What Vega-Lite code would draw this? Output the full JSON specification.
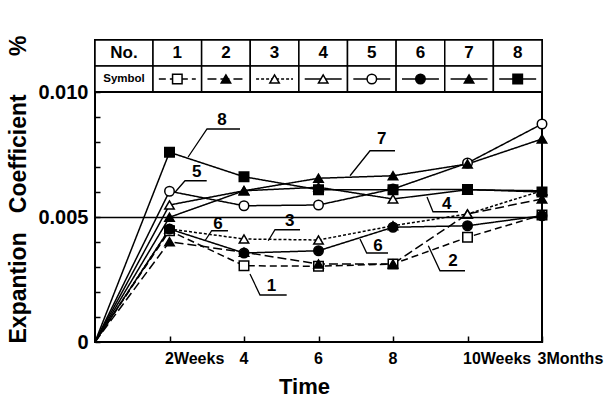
{
  "$schema": "https://vega.github.io/schema/vega-lite/v6.json",
  "background": "white",
  "padding": {"left": 5, "top": 34, "right": 2, "bottom": 2},
  "config": {
    "view": {"stroke": "black", "strokeWidth": 2},
    "font": "Liberation Sans",
    "concat": {"spacing": 0}
  },
  "spacing": 0,
  "bounds": "flush",
  "resolve": {"scale": {"x": "independent", "y": "independent"}},
  "datasets": {
    "series": [
      {"s": "1", "w": 0, "v": 0}, {"s": "1", "w": 2, "v": 0.00445}, {"s": "1", "w": 4, "v": 0.00305}, {"s": "1", "w": 6, "v": 0.00303}, {"s": "1", "w": 8, "v": 0.00312}, {"s": "1", "w": 10, "v": 0.00419}, {"s": "1", "w": 12, "v": 0.00508},
      {"s": "2", "w": 0, "v": 0}, {"s": "2", "w": 2, "v": 0.00401}, {"s": "2", "w": 4, "v": 0.00359}, {"s": "2", "w": 6, "v": 0.00312}, {"s": "2", "w": 8, "v": 0.00312}, {"s": "2", "w": 10, "v": 0.00512}, {"s": "2", "w": 12, "v": 0.00572},
      {"s": "3", "w": 0, "v": 0}, {"s": "3", "w": 2, "v": 0.00452}, {"s": "3", "w": 4, "v": 0.00412}, {"s": "3", "w": 6, "v": 0.00408}, {"s": "3", "w": 8, "v": 0.00465}, {"s": "3", "w": 10, "v": 0.00512}, {"s": "3", "w": 12, "v": 0.00605},
      {"s": "4", "w": 0, "v": 0}, {"s": "4", "w": 2, "v": 0.00548}, {"s": "4", "w": 4, "v": 0.00605}, {"s": "4", "w": 6, "v": 0.00619}, {"s": "4", "w": 8, "v": 0.00572}, {"s": "4", "w": 10, "v": 0.00609}, {"s": "4", "w": 12, "v": 0.00605},
      {"s": "5", "w": 0, "v": 0}, {"s": "5", "w": 2, "v": 0.00603}, {"s": "5", "w": 4, "v": 0.00545}, {"s": "5", "w": 6, "v": 0.00548}, {"s": "5", "w": 8, "v": 0.00612}, {"s": "5", "w": 10, "v": 0.00716}, {"s": "5", "w": 12, "v": 0.00872},
      {"s": "6", "w": 0, "v": 0}, {"s": "6", "w": 2, "v": 0.00452}, {"s": "6", "w": 4, "v": 0.00356}, {"s": "6", "w": 6, "v": 0.00365}, {"s": "6", "w": 8, "v": 0.00459}, {"s": "6", "w": 10, "v": 0.00465}, {"s": "6", "w": 12, "v": 0.00505},
      {"s": "7", "w": 0, "v": 0}, {"s": "7", "w": 2, "v": 0.00499}, {"s": "7", "w": 4, "v": 0.00605}, {"s": "7", "w": 6, "v": 0.00655}, {"s": "7", "w": 8, "v": 0.00665}, {"s": "7", "w": 10, "v": 0.00712}, {"s": "7", "w": 12, "v": 0.00812},
      {"s": "8", "w": 0, "v": 0}, {"s": "8", "w": 2, "v": 0.00759}, {"s": "8", "w": 4, "v": 0.00661}, {"s": "8", "w": 6, "v": 0.00609}, {"s": "8", "w": 8, "v": 0.00609}, {"s": "8", "w": 10, "v": 0.0061}, {"s": "8", "w": 12, "v": 0.006}
    ],
    "hdr": [
      {"c": "No.", "row": "No.", "t": "No."},
      {"c": "No.", "row": "Symbol", "t": "Symbol"}
    ],
    "cells": [
      {"s": "1", "row": "No."}, {"s": "1", "row": "Symbol"},
      {"s": "2", "row": "No."}, {"s": "2", "row": "Symbol"},
      {"s": "3", "row": "No."}, {"s": "3", "row": "Symbol"},
      {"s": "4", "row": "No."}, {"s": "4", "row": "Symbol"},
      {"s": "5", "row": "No."}, {"s": "5", "row": "Symbol"},
      {"s": "6", "row": "No."}, {"s": "6", "row": "Symbol"},
      {"s": "7", "row": "No."}, {"s": "7", "row": "Symbol"},
      {"s": "8", "row": "No."}, {"s": "8", "row": "Symbol"}
    ],
    "yt": [
      {"v": 0.001}, {"v": 0.002}, {"v": 0.003}, {"v": 0.004}, {"v": 0.006}, {"v": 0.007}, {"v": 0.008}, {"v": 0.009}
    ],
    "xt": [
      {"w": 2}, {"w": 4}, {"w": 6}, {"w": 8}, {"w": 10}
    ],
    "labels": [
      {"id": "a", "lab": "8", "w": 3.41, "v": 0.00888},
      {"id": "b", "lab": "5", "w": 2.73, "v": 0.0068},
      {"id": "c", "lab": "7", "w": 7.7, "v": 0.00812},
      {"id": "d", "lab": "4", "w": 9.44, "v": 0.00552},
      {"id": "e", "lab": "6", "w": 7.6, "v": 0.00385},
      {"id": "f", "lab": "2", "w": 9.61, "v": 0.00325},
      {"id": "g", "lab": "1", "w": 4.74, "v": 0.00225},
      {"id": "h", "lab": "3", "w": 5.23, "v": 0.00484},
      {"id": "k", "lab": "6", "w": 3.3, "v": 0.00472}
    ],
    "leaders": [
      {"id": "a", "i": 0, "w": 2.5, "v": 0.0074}, {"id": "a", "i": 1, "w": 3.007, "v": 0.00852}, {"id": "a", "i": 2, "w": 3.893, "v": 0.00852},
      {"id": "b", "i": 0, "w": 2.148, "v": 0.00599}, {"id": "b", "i": 1, "w": 2.416, "v": 0.00645}, {"id": "b", "i": 2, "w": 2.999, "v": 0.00645},
      {"id": "c", "i": 0, "w": 6.846, "v": 0.00665}, {"id": "c", "i": 1, "w": 7.383, "v": 0.00765}, {"id": "c", "i": 2, "w": 8.054, "v": 0.00765},
      {"id": "d", "i": 0, "w": 8.913, "v": 0.0058}, {"id": "d", "i": 1, "w": 9.074, "v": 0.00521}, {"id": "d", "i": 2, "w": 9.745, "v": 0.00521},
      {"id": "e", "i": 0, "w": 7.114, "v": 0.00412}, {"id": "e", "i": 1, "w": 7.294, "v": 0.00356}, {"id": "e", "i": 2, "w": 7.866, "v": 0.00356},
      {"id": "f", "i": 0, "w": 8.948, "v": 0.00385}, {"id": "f", "i": 1, "w": 9.262, "v": 0.00285}, {"id": "f", "i": 2, "w": 9.933, "v": 0.00285},
      {"id": "g", "i": 0, "w": 4.161, "v": 0.00272}, {"id": "g", "i": 1, "w": 4.43, "v": 0.00188}, {"id": "g", "i": 2, "w": 5.146, "v": 0.00188},
      {"id": "h", "i": 0, "w": 4.652, "v": 0.00405}, {"id": "h", "i": 1, "w": 4.832, "v": 0.00449}, {"id": "h", "i": 2, "w": 5.503, "v": 0.00449},
      {"id": "k", "i": 0, "w": 2.953, "v": 0.00405}, {"id": "k", "i": 1, "w": 3.133, "v": 0.00445}, {"id": "k", "i": 2, "w": 3.57, "v": 0.00445}
    ]
  },
  "vconcat": [
    {
      "width": 447,
      "height": 52,
      "resolve": {"scale": {"x": "independent"}},
      "layer": [
        {
          "data": {"name": "hdr"},
          "encoding": {
            "x": {"field": "c", "type": "nominal", "scale": {"domain": ["No."], "range": [0, 58], "paddingInner": 0, "paddingOuter": 0}, "axis": null},
            "y": {"field": "row", "type": "nominal", "scale": {"domain": ["No.", "Symbol"], "paddingInner": 0, "paddingOuter": 0}, "axis": null}
          },
          "layer": [
            {
              "mark": {"type": "rect", "fill": "white", "stroke": "black", "strokeWidth": 1.5}
            },
            {
              "transform": [{"filter": "datum.row == 'No.'"}],
              "mark": {"type": "text", "fontWeight": "bold", "fontSize": 17, "color": "black"},
              "encoding": {"text": {"field": "t"}}
            },
            {
              "transform": [{"filter": "datum.row == 'Symbol'"}],
              "mark": {"type": "text", "fontWeight": "bold", "fontSize": 11.5, "color": "black"},
              "encoding": {"text": {"field": "t"}}
            }
          ]
        },
        {
          "data": {"name": "cells"},
          "encoding": {
            "x": {"field": "s", "type": "nominal", "scale": {"domain": ["1", "2", "3", "4", "5", "6", "7", "8"], "range": [58, 447], "paddingInner": 0, "paddingOuter": 0}, "axis": null},
            "y": {"field": "row", "type": "nominal", "scale": {"domain": ["No.", "Symbol"], "paddingInner": 0, "paddingOuter": 0}, "axis": null}
          },
          "layer": [
            {
              "mark": {"type": "rect", "fill": "white", "stroke": "black", "strokeWidth": 1.5}
            },
            {
              "transform": [{"filter": "datum.row == 'No.'"}],
              "mark": {"type": "text", "fontWeight": "bold", "fontSize": 17, "color": "black"},
              "encoding": {"text": {"field": "s"}}
            },
            {
              "transform": [{"filter": "datum.row == 'Symbol'"}],
              "mark": {"type": "rule", "color": "black", "strokeWidth": 1.5},
              "encoding": {
                "x": {"field": "s", "type": "nominal", "bandPosition": 0.12, "scale": {"domain": ["1", "2", "3", "4", "5", "6", "7", "8"], "range": [58, 447], "paddingInner": 0, "paddingOuter": 0}, "axis": null},
                "x2": {"field": "s", "bandPosition": 0.88},
                "y": {"field": "row", "type": "nominal", "bandPosition": 0.5, "scale": {"domain": ["No.", "Symbol"], "paddingInner": 0, "paddingOuter": 0}, "axis": null},
                "strokeDash": {"field": "s", "type": "nominal", "scale": {"domain": ["1", "2", "3", "4", "5", "6", "7", "8"], "range": [[7, 4], [9, 4], [3, 2], [1, 0], [1, 0], [1, 0], [1, 0], [1, 0]]}, "legend": null}
              }
            },
            {
              "transform": [{"filter": "datum.row == 'Symbol'"}],
              "mark": {"type": "point", "filled": true, "stroke": "black", "strokeWidth": 1.5, "size": 90, "opacity": 1},
              "encoding": {
                "shape": {"field": "s", "type": "nominal", "scale": {"domain": ["1", "2", "3", "4", "5", "6", "7", "8"], "range": ["square", "triangle-up", "triangle-up", "triangle-up", "circle", "circle", "triangle-up", "square"]}, "legend": null},
                "fill": {"field": "s", "type": "nominal", "scale": {"domain": ["1", "2", "3", "4", "5", "6", "7", "8"], "range": ["white", "black", "white", "white", "white", "black", "black", "black"]}, "legend": null}
              }
            }
          ]
        }
      ]
    },
    {
      "width": 447,
      "height": 250,
      "encoding": {
        "x": {"field": "w", "type": "quantitative", "scale": {"domain": [0, 12], "nice": false},
          "axis": {"values": [2, 4, 6, 8, 10, 12], "labelExpr": "datum.value == 2 ? '2Weeks' : datum.value == 10 ? '10Weeks' : datum.value == 12 ? '3Months' : datum.label",
            "domain": false, "grid": false, "ticks": true, "offset": -6, "tickSize": 6, "tickWidth": 1.5, "tickColor": "black", "labelOverlap": false, "zindex": 1,
            "labelAlign": "left", "labelOffset": -5, "labelPadding": 8, "labelFontSize": 16, "labelFontWeight": "bold", "labelColor": "black", "labelFont": "Liberation Sans",
            "title": "Time", "titleFontSize": 22, "titleFontWeight": "bold", "titleColor": "black", "titleFont": "Liberation Sans",
            "titleX": 209, "titleY": 40, "titleBaseline": "top", "titleAlign": "center"}},
        "y": {"field": "v", "type": "quantitative", "scale": {"domain": [0, 0.01], "nice": false},
          "axis": {"values": [0, 0.001, 0.002, 0.003, 0.004, 0.005, 0.006, 0.007, 0.008, 0.009, 0.01],
            "labelExpr": "abs(datum.value) < 0.0001 ? '0' : abs(datum.value - 0.005) < 0.0001 ? '0.005' : abs(datum.value - 0.01) < 0.0001 ? '0.010' : ''",
            "domain": false, "ticks": true, "offset": -5, "tickSize": 5, "tickWidth": 1.5, "tickColor": "black", "labelOverlap": false, "zindex": 1,
            "grid": true, "gridColor": "black", "gridWidth": 1.5,
            "gridOpacity": {"condition": {"test": "abs(datum.value - 0.005) < 0.0001", "value": 1}, "value": 0},
            "labelPadding": 7, "labelFontSize": 20, "labelFontWeight": "bold", "labelColor": "black", "labelFont": "Liberation Sans",
            "title": "Expantion\u00a0\u00a0\u00a0Coefficient\u00a0\u00a0\u00a0\u00a0\u00a0\u00a0%", "titleFontSize": 23, "titleFontWeight": "bold", "titleColor": "black", "titleFont": "Liberation Sans",
            "titleX": -75, "titleY": 97, "titleBaseline": "alphabetic", "titleAlign": "center", "titleAngle": -90}}
      },
      "layer": [
        {
          "data": {"name": "yt"},
          "mark": {"type": "rule", "color": "black", "strokeWidth": 1.5},
          "encoding": {
            "x": {"datum": 0, "type": "quantitative"},
            "x2": {"datum": 0.14},
            "y": {"field": "v", "type": "quantitative"}
          }
        },
        {
          "data": {"name": "xt"},
          "mark": {"type": "rule", "color": "black", "strokeWidth": 1.5},
          "encoding": {
            "x": {"field": "w", "type": "quantitative"},
            "y": {"datum": 0, "type": "quantitative"},
            "y2": {"datum": 0.00026}
          }
        },
        {
          "data": {"name": "series"},
          "mark": {"type": "line", "color": "black", "strokeWidth": 1.5},
          "encoding": {
            "detail": {"field": "s"},
            "order": {"field": "w"},
            "strokeDash": {"field": "s", "type": "nominal", "scale": {"domain": ["1", "2", "3", "4", "5", "6", "7", "8"], "range": [[7, 4], [9, 4], [3, 2], [1, 0], [1, 0], [1, 0], [1, 0], [1, 0]]}, "legend": null}
          }
        },
        {
          "data": {"name": "series"},
          "transform": [{"filter": "datum.w > 0"}],
          "mark": {"type": "point", "filled": true, "stroke": "black", "strokeWidth": 1.5, "size": 90, "opacity": 1},
          "encoding": {
            "shape": {"field": "s", "type": "nominal", "scale": {"domain": ["1", "2", "3", "4", "5", "6", "7", "8"], "range": ["square", "triangle-up", "triangle-up", "triangle-up", "circle", "circle", "triangle-up", "square"]}, "legend": null},
            "fill": {"field": "s", "type": "nominal", "scale": {"domain": ["1", "2", "3", "4", "5", "6", "7", "8"], "range": ["white", "black", "white", "white", "white", "black", "black", "black"]}, "legend": null}
          }
        },
        {
          "data": {"name": "leaders"},
          "mark": {"type": "line", "color": "black", "strokeWidth": 1.3},
          "encoding": {
            "detail": {"field": "id"},
            "order": {"field": "i"}
          }
        },
        {
          "data": {"name": "labels"},
          "mark": {"type": "text", "fontSize": 17, "fontWeight": "bold", "color": "black", "baseline": "middle", "align": "center"},
          "encoding": {
            "text": {"field": "lab"}
          }
        }
      ]
    }
  ]
}
